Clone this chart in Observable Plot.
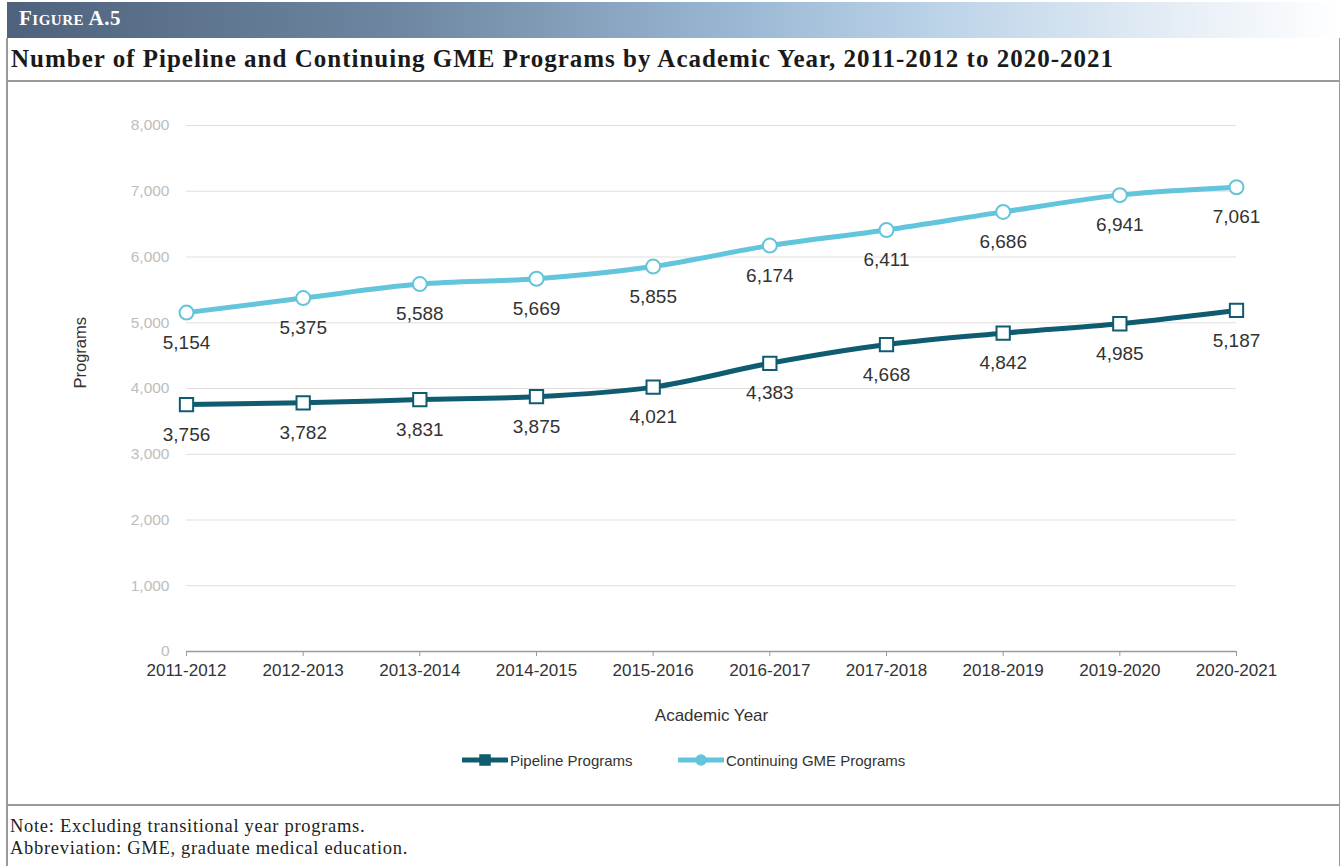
<!DOCTYPE html>
<html>
<head>
<meta charset="utf-8">
<script src="https://cdn.jsdelivr.net/npm/d3@7"></script>
<script src="https://cdn.jsdelivr.net/npm/@observablehq/plot@0.6"></script>
<style>
  html, body { margin: 0; padding: 0; background: #fff; }
  #wrap { position: relative; width: 1340px; height: 866px; overflow: hidden; font-family: "Liberation Sans", Arial, sans-serif; }
  #band { position: absolute; left: 7px; top: 2px; width: 1333px; height: 36px;
    background: linear-gradient(to right, #4e627d 0%, #6f87a2 30%, #9ab8d4 55%, #bcd3e8 70%, #e6eef6 88%, #ffffff 100%); }
  #band span { position: absolute; left: 12px; top: 4px; color: #fff; font-family: "Liberation Serif", "DejaVu Serif", serif;
    font-weight: bold; font-variant: small-caps; font-size: 21px; letter-spacing: 0.5px; }
  #box { position: absolute; left: 6px; top: 38px; width: 1331px; height: 840px; border-left: 2px solid #9a9a9a; border-right: 2px solid #9a9a9a; }
  #title { position: absolute; left: 8px; top: 38px; width: 1331px; height: 42px; border-bottom: 2px solid #9a9a9a; }
  #title span { position: absolute; left: 3px; top: 7px; font-family: "Liberation Serif", "DejaVu Serif", serif; font-weight: bold; font-size: 25px; letter-spacing: 1px; color: #1a1a1a; white-space: nowrap; }
  #chart { position: absolute; left: 0; top: 82px; }
  #legend { position: absolute; left: 0; top: 748px; width: 1340px; height: 24px; }
  #rule { position: absolute; left: 8px; top: 804px; width: 1331px; border-top: 2px solid #9a9a9a; }
  #notes { position: absolute; left: 10px; top: 815px; font-family: "Liberation Serif", "DejaVu Serif", serif; font-size: 18.5px; letter-spacing: 0.7px; color: #222; line-height: 22px; }
</style>
</head>
<body>
<div id="wrap">
  <div id="band"><span>Figure A.5</span></div>
  <div id="box"></div>
  <div id="title"><span>Number of Pipeline and Continuing GME Programs by Academic Year, 2011-2012 to 2020-2021</span></div>
  <div id="chart"></div>
  <div id="legend"></div>
  <div id="rule"></div>
  <div id="notes">Note: Excluding transitional year programs.<br>Abbreviation: GME, graduate medical education.</div>
</div>
<script>
const years = ["2011-2012","2012-2013","2013-2014","2014-2015","2015-2016","2016-2017","2017-2018","2018-2019","2019-2020","2020-2021"];
const pipeline = [3756, 3782, 3831, 3875, 4021, 4383, 4668, 4842, 4985, 5187];
const continuing = [5154, 5375, 5588, 5669, 5855, 6174, 6411, 6686, 6941, 7061];
const seriesNames = ["Pipeline Programs", "Continuing GME Programs"];
const seriesColors = ["#0f5b70", "#62c5dc"];
const yTicks = [0, 1000, 2000, 3000, 4000, 5000, 6000, 7000, 8000];

const pipeRows = years.map((y, i) => ({year: y, value: pipeline[i]}));
const contRows = years.map((y, i) => ({year: y, value: continuing[i]}));

const chart = Plot.plot({
  width: 1340,
  height: 655,
  marginLeft: 186,
  marginRight: 104,
  marginTop: 43,
  marginBottom: 86,
  style: {fontFamily: "'Liberation Sans', Arial, sans-serif", background: "transparent"},
  x: {type: "point", domain: years, padding: 0, round: false},
  y: {domain: [0, 8000]},
  marks: [
    Plot.gridY(yTicks.filter(d => d > 0), {stroke: "#e2dede", strokeOpacity: 1, strokeWidth: 1.2}),
    Plot.ruleY([0], {stroke: "#9a9a9a", strokeWidth: 1.5}),
    Plot.axisY(yTicks, {tickSize: 0, tickPadding: 17, fontSize: 15.5, fill: "#bdbdbd", tickFormat: d3.format(","), label: null}),
    Plot.axisX({tickSize: 5, tickPadding: 7, fontSize: 17, fill: "#333", stroke: "#9a9a9a", label: null}),
    Plot.text(["Programs"], {frameAnchor: "left", rotate: -90, dx: -106, fontSize: 16.5, fill: "#333"}),
    Plot.text(["Academic Year"], {frameAnchor: "bottom", dy: 69, fontSize: 17, fill: "#333"}),
    Plot.line(contRows, {x: "year", y: "value", stroke: seriesColors[1], strokeWidth: 5, curve: "monotone-x"}),
    Plot.line(pipeRows, {x: "year", y: "value", stroke: seriesColors[0], strokeWidth: 5, curve: "monotone-x"}),
    Plot.dot(contRows, {x: "year", y: "value", symbol: "circle", r: 7, fill: "white", stroke: seriesColors[1], strokeWidth: 2}),
    Plot.dot(pipeRows, {x: "year", y: "value", symbol: "square", r: 7.5, fill: "white", stroke: seriesColors[0], strokeWidth: 2}),
    Plot.text(contRows, {x: "year", y: "value", text: d => d3.format(",")(d.value), dy: 30, fontSize: 19, fill: "#333"}),
    Plot.text(pipeRows, {x: "year", y: "value", text: d => d3.format(",")(d.value), dy: 30, fontSize: 19, fill: "#333"})
  ]
});
document.getElementById("chart").appendChild(chart);

// Legend
const legend = document.getElementById("legend");
const items = [
  {name: seriesNames[0], color: seriesColors[0], sym: "square", left: 462},
  {name: seriesNames[1], color: seriesColors[1], sym: "circle", left: 678}
];
for (const it of items) {
  const d = document.createElement("div");
  d.style.cssText = `position:absolute;left:${it.left}px;top:0;height:24px;display:flex;align-items:center;`;
  const ns = "http://www.w3.org/2000/svg";
  const s = document.createElementNS(ns, "svg");
  s.setAttribute("width", 46); s.setAttribute("height", 20);
  const ln = document.createElementNS(ns, "line");
  ln.setAttribute("x1", 1); ln.setAttribute("x2", 45); ln.setAttribute("y1", 10); ln.setAttribute("y2", 10);
  ln.setAttribute("stroke", it.color); ln.setAttribute("stroke-width", 5); ln.setAttribute("stroke-linecap", "round");
  s.appendChild(ln);
  let m;
  if (it.sym === "square") {
    m = document.createElementNS(ns, "rect");
    m.setAttribute("x", 18); m.setAttribute("y", 5); m.setAttribute("width", 10); m.setAttribute("height", 10);
  } else {
    m = document.createElementNS(ns, "circle");
    m.setAttribute("cx", 23); m.setAttribute("cy", 10); m.setAttribute("r", 5);
  }
  m.setAttribute("fill", it.color); m.setAttribute("stroke", it.color); m.setAttribute("stroke-width", 1.5);
  s.appendChild(m);
  d.appendChild(s);
  const t = document.createElement("span");
  t.textContent = it.name;
  t.style.cssText = "font-size:15px;color:#333;margin-left:2px;";
  d.appendChild(t);
  legend.appendChild(d);
}
</script>
</body>
</html>
